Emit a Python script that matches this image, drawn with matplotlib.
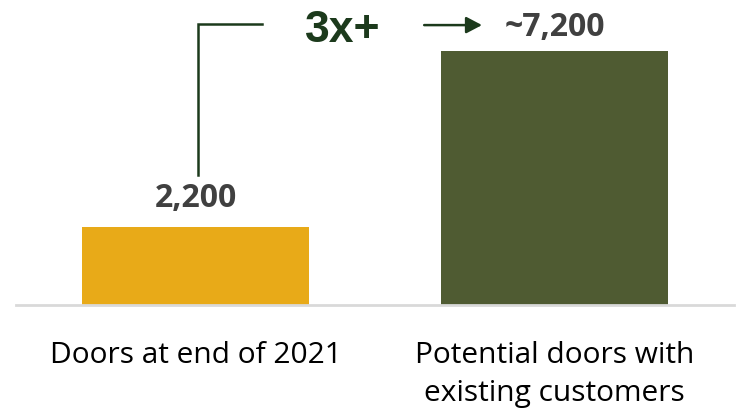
import matplotlib.pyplot as plt

categories = ["Doors at end of 2021", "Potential doors with\nexisting customers"]
values = [2200, 7200]
value_labels = ["2,200", "~7,200"]
multiple_label = "3x+"

BAR_COLORS = ["#e8aa18", "#4f5b32"]
DARK_GREEN = "#1c3a1c"
LABEL_GREY = "#404040"

W, H = 736, 413
fig = plt.figure(figsize=(W / 100, H / 100), dpi=100)
# axes spans the grey baseline (x 16..734 px), baseline at y=305 px from top
ax = fig.add_axes([16 / W, (H - 305) / H, 718 / W, 282.2 / H])
x = list(range(len(categories)))
ax.bar(x, values, width=0.63, color=BAR_COLORS)
ax.set_xlim(-0.5, 1.5)
ax.set_ylim(0, 8000)
for side in ["top", "right", "left"]:
    ax.spines[side].set_visible(False)
ax.spines["bottom"].set_color("#d9d9d9")
ax.spines["bottom"].set_linewidth(2)
ax.set_yticks([])
ax.set_xticks(x)
ax.set_xticklabels(categories, fontsize=21.5, family="Open Sans", color="black")
for label in ax.get_xticklabels():
    label.set_linespacing(1.42)
ax.tick_params(axis="x", length=0, pad=26)

# value labels sit at their baseline above each bar
ax.text(x[0], values[0] + 580, value_labels[0], ha="center", va="baseline",
        fontsize=23, fontweight="bold", family="Open Sans", color=LABEL_GREY)
ax.text(x[1], values[1] + 425, value_labels[1], ha="center", va="baseline",
        fontsize=23, fontweight="bold", family="Open Sans", color=LABEL_GREY)

# bracket from the small bar up and across to the multiplier
line_y = 7965
ax.plot([0.006, 0.006, 0.185], [3685, line_y, line_y], color=DARK_GREEN, lw=1.8,
        clip_on=False, solid_joinstyle="miter")
ax.text(0.41, 7455, multiple_label, ha="center", va="baseline", fontsize=32,
        fontweight="bold", family="Liberation Sans", color=DARK_GREEN)
ax.annotate("", xy=(0.798, line_y - 30), xytext=(0.637, line_y - 30), annotation_clip=False,
            arrowprops=dict(arrowstyle="-|>,head_length=0.95,head_width=0.5",
                            color=DARK_GREEN, lw=1.8, shrinkA=0, shrinkB=0))

fig.savefig("out.png", dpi=100)
